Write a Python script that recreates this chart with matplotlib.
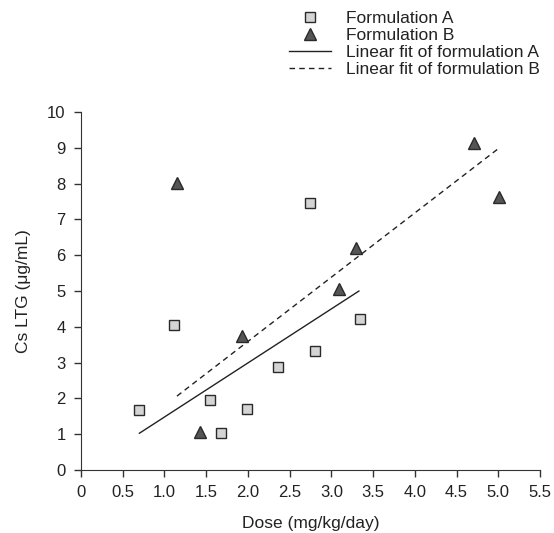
import matplotlib.pyplot as plt
import numpy as np

plt.rcParams['font.family'] = ['Liberation Sans', 'DejaVu Sans']

# Formulation A (squares)
dose_a = [0.69, 1.12, 1.55, 1.68, 1.99, 2.36, 2.75, 2.80, 3.34]
cs_a = [1.68, 4.04, 1.96, 1.02, 1.71, 2.87, 7.47, 3.32, 4.21]

# Formulation B (triangles)
dose_b = [1.15, 1.43, 1.93, 3.09, 3.30, 4.71, 5.01]
cs_b = [8.01, 1.07, 3.73, 5.05, 6.21, 9.12, 7.62]

# linear fits as drawn: slope, intercept, x range
fit_a = (1.51, -0.03, 0.70, 3.33)
fit_b = (1.795, 0.0, 1.15, 5.01)

xticks = [0, 0.5, 1.0, 1.5, 2.0, 2.5, 3.0, 3.5, 4.0, 4.5, 5.0, 5.5]
xtick_labels = ['0', '0.5', '1.0', '1.5', '2.0', '2.5', '3.0', '3.5', '4.0', '4.5', '5.0', '5.5']
yticks = list(range(0, 11))

fig = plt.figure(figsize=(5.54, 5.33), dpi=100)
ax = fig.add_axes([0.1462, 0.1182, 0.8285, 0.6717])

ax.plot(dose_a, cs_a, linestyle='none', marker='s', markersize=7.5,
        markerfacecolor='#d4d4d4', markeredgecolor='#2a2a2a', markeredgewidth=1.0,
        label='Formulation A', clip_on=False, zorder=3)
ax.plot(dose_b, cs_b, linestyle='none', marker='^', markersize=8,
        markerfacecolor='#555555', markeredgecolor='#2a2a2a', markeredgewidth=1.0,
        label='Formulation B', clip_on=False, zorder=3)

xa = np.array(fit_a[2:])
ax.plot(xa, fit_a[0] * xa + fit_a[1], color='#222222', linewidth=1.0, linestyle='-',
        label='Linear fit of formulation A')
xb = np.array(fit_b[2:])
ax.plot(xb, fit_b[0] * xb + fit_b[1], color='#222222', linewidth=1.0, linestyle=(0, (4, 3)),
        label='Linear fit of formulation B')

ax.set_xlim(0, 5.5)
ax.set_ylim(0, 10)
ax.set_xticks(xticks)
ax.set_xticklabels(xtick_labels)
ax.set_yticks(yticks)
ax.spines['top'].set_visible(False)
ax.spines['right'].set_visible(False)
ax.spines['left'].set_color('#333333')
ax.spines['bottom'].set_color('#333333')
ax.tick_params(direction='out', length=5, width=1, colors='#333333', labelsize=12,
               labelcolor='#222222', pad=6)

ax.set_xlabel('Dose (mg/kg/day)', fontsize=12.5, color='#222222', labelpad=11)
ax.set_ylabel('Cs LTG (\u03bcg/mL)', fontsize=12.5, color='#222222', labelpad=12)

fig.legend(loc='upper left', bbox_to_anchor=(0.501, 1.0), frameon=False,
           fontsize=12.5, labelspacing=0.1, handlelength=2.4, handletextpad=0.9,
           borderaxespad=0.25, labelcolor='#222222')

fig.savefig('out.png', dpi=100)
